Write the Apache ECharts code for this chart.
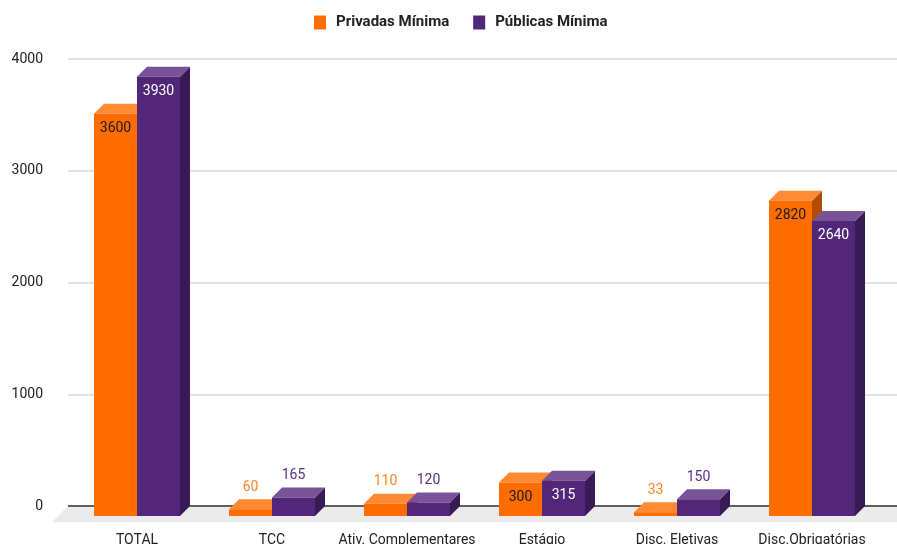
<!DOCTYPE html>
<html>
<head>
<meta charset="utf-8">
<script src="https://cdn.jsdelivr.net/npm/echarts@6/dist/echarts.min.js"></script>
<style>
  html, body { margin: 0; padding: 0; background: #fff; }
  #main { width: 897px; height: 544px; }
</style>
</head>
<body>
<div id="main"></div>
<script>
// dados do gráfico
var categories = ['TOTAL', 'TCC', 'Ativ. Complementares', 'Estágio', 'Disc. Eletivas', 'Disc.Obrigatórias'];
var privadas = [3600, 60, 110, 300, 33, 2820];
var publicas = [3930, 165, 120, 315, 150, 2640];
var yTicks = [0, 1000, 2000, 3000, 4000];

// profundidade do efeito 3D
var DX = 10;
var DY = 10;
var BAR_W = 43;

var laranja = { front: '#FF6D00', top: '#FF8A33', side: '#B34C00', labelIn: '#1a1a1a', labelOut: '#FF8424' };
var roxo = { front: '#52277A', top: '#785497', side: '#381A55', labelIn: '#ffffff', labelOut: '#5A2F84' };

// desenha uma barra com frente, topo e lateral
function makeBar(left, cores) {
    return function (params, api) {
        var cat = api.value(0);
        var val = api.value(1);
        var back = api.coord([cat, val]);
        var base = api.coord([cat, 0]);
        var x0 = back[0] + left;
        var x1 = x0 + BAR_W;
        var yTop = back[1] + DY;
        var yBot = base[1] + DY;

        var children = [
            {
                type: 'polygon',
                shape: { points: [[x1, yTop], [x1 + DX, yTop - DY], [x1 + DX, yBot - DY], [x1, yBot]] },
                style: { fill: cores.side }
            },
            {
                type: 'polygon',
                shape: { points: [[x0, yTop], [x1, yTop], [x1 + DX, yTop - DY], [x0 + DX, yTop - DY]] },
                style: { fill: cores.top }
            },
            {
                type: 'rect',
                shape: { x: x0, y: yTop, width: BAR_W, height: yBot - yTop },
                style: { fill: cores.front }
            }
        ];

        var dentro = (yBot - yTop) > 30;
        children.push({
            type: 'text',
            x: x0 + BAR_W / 2,
            y: dentro ? yTop + 15 : back[1] - 12,
            style: {
                text: String(val),
                fill: dentro ? cores.labelIn : cores.labelOut,
                font: '14px Roboto',
                align: 'center',
                verticalAlign: 'middle'
            }
        });

        return { type: 'group', children: children };
    };
}

// chão cinza e linha do zero
function renderChao(params, api) {
    var cs = params.coordSys;
    var y0 = api.coord([0, 0])[1];
    var xa = cs.x;
    var xb = cs.x + cs.width;
    return {
        type: 'group',
        children: [
            {
                type: 'polygon',
                shape: { points: [[xa, y0], [xb + 16, y0], [xb, y0 + 16], [xa - 16, y0 + 16]] },
                style: { fill: '#EBEBEB' }
            },
            {
                type: 'line',
                shape: { x1: xa, y1: y0, x2: xb, y2: y0 },
                style: { stroke: '#333', lineWidth: 1.5 }
            }
        ]
    };
}

var myChart = echarts.init(document.getElementById('main'));

var option = {
    backgroundColor: '#fff',
    textStyle: { fontFamily: 'Roboto' },
    legend: {
        top: 15,
        left: 314,
        padding: 0,
        itemWidth: 12,
        itemHeight: 14,
        itemGap: 24,
        icon: 'rect',
        data: ['Privadas Mínima', 'Públicas Mínima'],
        textStyle: { fontSize: 15, fontWeight: 'bold', color: '#222', padding: [0, 0, 0, 5] }
    },
    grid: [
        { left: 69.5, right: 17.5, top: 59, bottom: 38, outerBoundsMode: 'none' },
        { left: 68, right: 0, top: 59, bottom: 38, outerBoundsMode: 'none' }
    ],
    xAxis: [
        {
            type: 'category',
            gridIndex: 0,
            data: categories,
            axisLine: { show: false },
            axisTick: { show: false },
            axisLabel: { margin: 27, fontSize: 14, color: '#222', interval: 0 }
        },
        {
            type: 'value',
            gridIndex: 1,
            min: 0,
            max: 1,
            show: false
        }
    ],
    yAxis: [
        {
            type: 'value',
            gridIndex: 0,
            min: yTicks[0],
            max: yTicks[yTicks.length - 1],
            interval: 1000,
            show: false
        },
        {
            type: 'value',
            gridIndex: 1,
            min: yTicks[0],
            max: yTicks[yTicks.length - 1],
            interval: 1000,
            axisLine: { show: false },
            axisTick: { show: false },
            axisLabel: {
                margin: 25,
                fontSize: 14,
                color: '#222',
                formatter: function (v) { return String(v); }
            },
            splitLine: { lineStyle: { color: '#DADADA', width: 1.5 } }
        }
    ],
    series: [
        {
            type: 'custom',
            xAxisIndex: 1,
            yAxisIndex: 1,
            z: 1,
            silent: true,
            renderItem: renderChao,
            data: [[0, 0]]
        },
        {
            name: 'Privadas Mínima',
            type: 'custom',
            xAxisIndex: 0,
            yAxisIndex: 0,
            z: 3,
            itemStyle: { color: laranja.front },
            renderItem: makeBar(-BAR_W, laranja),
            encode: { x: 0, y: 1 },
            data: privadas.map(function (v, i) { return [i, v]; })
        },
        {
            name: 'Públicas Mínima',
            type: 'custom',
            xAxisIndex: 0,
            yAxisIndex: 0,
            z: 4,
            itemStyle: { color: roxo.front },
            renderItem: makeBar(0, roxo),
            encode: { x: 0, y: 1 },
            data: publicas.map(function (v, i) { return [i, v]; })
        }
    ]
};

myChart.setOption(option);
</script>
</body>
</html>
